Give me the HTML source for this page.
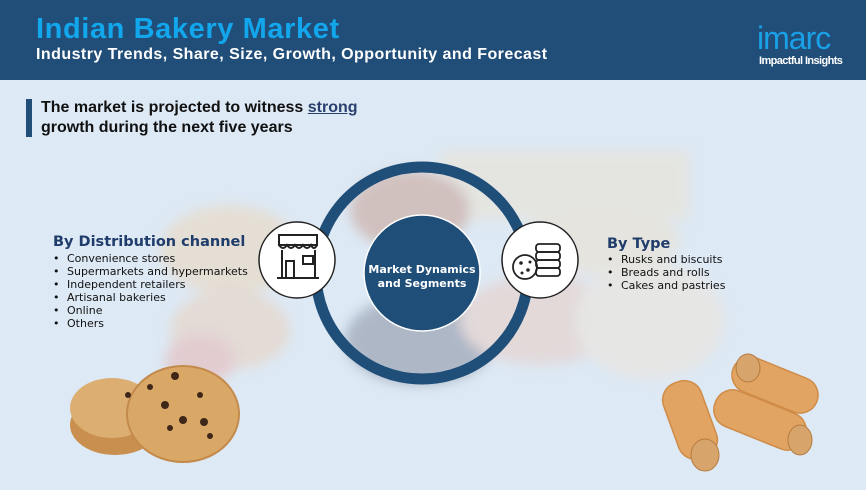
<!DOCTYPE html>
<html><head><meta charset="utf-8"><style>
body{margin:0;width:866px;height:490px;overflow:hidden;background:#dde9f5;font-family:"DejaVu Sans",Verdana,sans-serif;position:relative}
.hdr{position:absolute;left:0;top:0;width:866px;height:80px;background:#214e78}
.t1{position:absolute;left:36px;top:13px;font-family:"Liberation Sans",sans-serif;font-weight:bold;font-size:29px;color:#12a6ec;letter-spacing:0.6px}
.t2{position:absolute;left:36px;top:46px;font-family:"Liberation Sans",sans-serif;font-weight:bold;font-size:16px;color:#fff;letter-spacing:0.45px}
.logo{position:absolute;left:757px;top:20px;font-family:"Liberation Sans",sans-serif;font-size:32px;color:#1aa0e6;letter-spacing:-1px}
.logo2{position:absolute;left:759px;top:55px;font-family:"Liberation Sans",sans-serif;font-size:11px;font-weight:bold;color:#fff;letter-spacing:-0.6px}
.bar{position:absolute;left:26px;top:99px;width:6px;height:38px;background:#214e78}
.q{position:absolute;left:41px;top:98px;font-family:"Liberation Sans",sans-serif;font-weight:bold;font-size:16px;line-height:20px;color:#111}
.q u{color:#2a3f6e}
.h{position:absolute;font-weight:bold;font-size:14.5px;color:#1f3c6b}
ul{position:absolute;margin:0;padding:0;list-style:none;font-size:11px;line-height:13px;color:#111}
li:before{content:"•";display:inline-block;width:14px}
</style></head><body>
<svg width="866" height="490" style="position:absolute;left:0;top:0">
<defs><filter id="b"><feGaussianBlur stdDeviation="6"/></filter></defs>
<g filter="url(#b)" opacity="0.6">
<rect x="440" y="150" width="250" height="70" fill="#e9e3d4"/>
<ellipse cx="230" cy="250" rx="70" ry="45" fill="#ead7bf"/>
<ellipse cx="230" cy="330" rx="60" ry="40" fill="#e8d2c0"/>
<ellipse cx="200" cy="360" rx="35" ry="25" fill="#e6b9b8"/>
<ellipse cx="410" cy="210" rx="60" ry="40" fill="#c9a69a"/>
<ellipse cx="420" cy="340" rx="75" ry="45" fill="#8f97a8"/>
<ellipse cx="540" cy="320" rx="80" ry="45" fill="#e7cfc8"/>
<ellipse cx="650" cy="320" rx="75" ry="60" fill="#ede5dc"/>
<ellipse cx="600" cy="240" rx="80" ry="35" fill="#ebe2d2"/>
</g>
<circle cx="422" cy="273" r="106" fill="none" stroke="#1f4e78" stroke-width="11"/>
<circle cx="422" cy="273" r="58" fill="#1f4e78" stroke="#fff" stroke-width="1.5"/>
<text x="422" y="273" text-anchor="middle" font-family="DejaVu Sans,sans-serif" font-weight="bold" font-size="11" fill="#fff">Market Dynamics</text>
<text x="422" y="287" text-anchor="middle" font-family="DejaVu Sans,sans-serif" font-weight="bold" font-size="11" fill="#fff">and Segments</text>
<circle cx="297" cy="260" r="38" fill="#fff" stroke="#222" stroke-width="1.5"/>
<circle cx="540" cy="260" r="38" fill="#fff" stroke="#222" stroke-width="1.5"/>
<g fill="none" stroke="#222" stroke-width="2">
<rect x="279" y="235" width="38" height="10"/>
<path d="M279 245 q4 6 8 0 q4 6 8 0 q4 6 8 0 q4 6 8 0 q3 6 6 0"/>
<path d="M282 250 v28 M315 250 v28 M277 278 h42"/>
<rect x="286" y="261" width="8" height="17"/>
<rect x="303" y="256" width="10" height="8"/>
</g>
<g fill="none" stroke="#222" stroke-width="1.8">
<circle cx="525" cy="267" r="12"/>
<rect x="536" y="244" width="24" height="8" rx="3"/>
<rect x="536" y="252" width="24" height="8" rx="3"/>
<rect x="536" y="260" width="24" height="8" rx="3"/>
<rect x="536" y="268" width="24" height="8" rx="3"/>
</g>
<g fill="#222"><circle cx="521" cy="263" r="1.8"/><circle cx="528" cy="270" r="1.8"/><circle cx="522" cy="273" r="1.5"/><circle cx="530" cy="262" r="1.5"/></g>
<ellipse cx="115" cy="425" rx="45" ry="30" fill="#c98f4f"/>
<ellipse cx="112" cy="408" rx="42" ry="30" fill="#dcae72"/>
<ellipse cx="183" cy="414" rx="56" ry="48" fill="#d9a867" stroke="#c48a4c" stroke-width="2"/>
<g fill="#3e2719"><circle cx="175" cy="376" r="4"/><circle cx="165" cy="405" r="4"/><circle cx="183" cy="420" r="4"/><circle cx="204" cy="422" r="4"/><circle cx="200" cy="395" r="3"/><circle cx="170" cy="428" r="3"/><circle cx="128" cy="395" r="3"/><circle cx="210" cy="436" r="3"/><circle cx="150" cy="387" r="3"/></g>
<g fill="#e2a462" stroke="#cf8c48" stroke-width="1.5">
<g transform="translate(690,420) rotate(70)"><rect x="-40" y="-20" width="80" height="40" rx="18"/></g>
<g transform="translate(760,420) rotate(22)"><rect x="-48" y="-19" width="96" height="38" rx="18"/></g>
<g transform="translate(775,385) rotate(22)"><rect x="-45" y="-18" width="90" height="36" rx="18"/></g>
</g>
<g fill="#d7a56c" stroke="#b57a3e"><ellipse cx="705" cy="455" rx="14" ry="16"/><ellipse cx="800" cy="440" rx="12" ry="15"/><ellipse cx="748" cy="368" rx="12" ry="14"/></g>
</svg>
<div class="hdr"></div>
<div class="t1">Indian Bakery Market</div>
<div class="t2">Industry Trends, Share, Size, Growth, Opportunity and Forecast</div>
<div class="logo">imarc</div>
<div class="logo2">Impactful Insights</div>
<div class="bar"></div>
<div class="q">The market is projected to witness <u>strong</u><br>growth during the next five years</div>
<div class="h" style="left:53px;top:234px">By Distribution channel</div>
<ul style="left:53px;top:252px">
<li>Convenience stores</li><li>Supermarkets and hypermarkets</li><li>Independent retailers</li><li>Artisanal bakeries</li><li>Online</li><li>Others</li></ul>
<div class="h" style="left:607px;top:236px">By Type</div>
<ul style="left:607px;top:253px">
<li>Rusks and biscuits</li><li>Breads and rolls</li><li>Cakes and pastries</li></ul>
</body></html>
